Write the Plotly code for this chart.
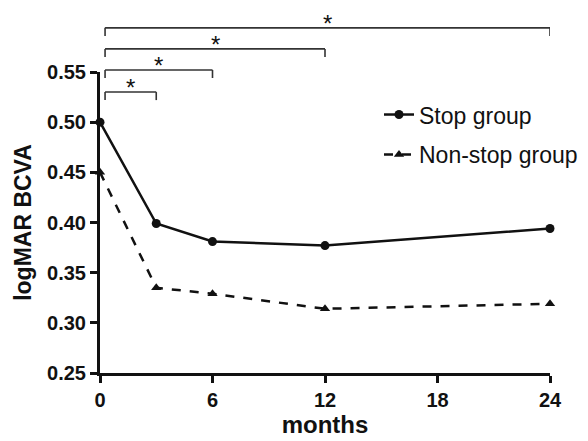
import plotly.graph_objects as go

months = [0, 3, 6, 12, 24]
stop_group = [0.500, 0.399, 0.381, 0.377, 0.394]
nonstop_group = [0.450, 0.335, 0.329, 0.314, 0.319]

x_ticks = [0, 6, 12, 18, 24]
y_ticks = [0.25, 0.30, 0.35, 0.40, 0.45, 0.50, 0.55]
y_ticklabels = ["0.25", "0.30", "0.35", "0.40", "0.45", "0.50", "0.55"]

# significance brackets: compare month 0 against these months
bracket_start = 0.27
bracket_ends = [3, 6, 12, 24]
bracket_levels = [0.530, 0.552, 0.573, 0.594]
bracket_drop = 0.008
bracket_label = "*"

YMIN, YMAX = 0.25, 0.55
FONT = "Liberation Sans, Arial, sans-serif"

fig = go.Figure()
fig.add_trace(go.Scatter(
    x=months, y=stop_group, name="Stop group", mode="lines+markers",
    line=dict(color="#111111", width=2.5),
    marker=dict(symbol="circle", size=9, color="#111111"),
    cliponaxis=False, legendgroup="a",
))
fig.add_trace(go.Scatter(
    x=months, y=nonstop_group, name="Non-stop group", mode="lines+markers",
    line=dict(color="#111111", width=2.5, dash="dash"),
    marker=dict(symbol="triangle-up", size=9, color="#111111"),
    cliponaxis=False, legendgroup="b",
))


def to_paper(v):
    return (v - YMIN) / (YMAX - YMIN)


for end, lvl in zip(bracket_ends, bracket_levels):
    path_pts = [(bracket_start, lvl - bracket_drop), (bracket_start, lvl),
                (end, lvl), (end, lvl - bracket_drop)]
    for (x0, y0), (x1, y1) in zip(path_pts[:-1], path_pts[1:]):
        fig.add_shape(type="line", xref="x", yref="paper",
                      x0=x0, x1=x1, y0=to_paper(y0), y1=to_paper(y1),
                      line=dict(color="#333333", width=1.6))
    fig.add_annotation(x=(bracket_start + end) / 2, y=to_paper(lvl),
                       xref="x", yref="paper", text=bracket_label,
                       showarrow=False, yanchor="bottom", yshift=-11,
                       font=dict(family=FONT, size=24, color="#111111"))

axis_common = dict(
    showline=True, linecolor="#111111", linewidth=3,
    ticks="outside", ticklen=7, tickwidth=3, tickcolor="#111111",
    showgrid=False, zeroline=False, automargin=False,
    tickfont=dict(family=FONT, size=20, color="#111111", weight="bold"),
)

fig.update_layout(
    width=588, height=441,
    margin=dict(l=100, r=38, t=72, b=68, autoexpand=False),
    paper_bgcolor="white", plot_bgcolor="white",
    xaxis=dict(range=[0, 24], tickvals=x_ticks,
               title=dict(text="months", standoff=4,
                          font=dict(family=FONT, size=24, color="#111111", weight="bold")),
               **axis_common),
    yaxis=dict(range=[YMIN, YMAX], tickvals=y_ticks, ticktext=y_ticklabels,
               title=dict(text="logMAR BCVA", standoff=10,
                          font=dict(family=FONT, size=23, color="#111111", weight="bold")),
               **axis_common),
    legend=dict(x=0.62, y=0.93, xanchor="left", yanchor="top",
                bgcolor="rgba(0,0,0,0)", tracegroupgap=7, traceorder="grouped",
                font=dict(family=FONT, size=23, color="#111111")),
    showlegend=True,
)

fig.write_html("out.html", config={"displayModeBar": False},
               post_script="document.body.style.margin='0';document.body.style.overflow='hidden';")
